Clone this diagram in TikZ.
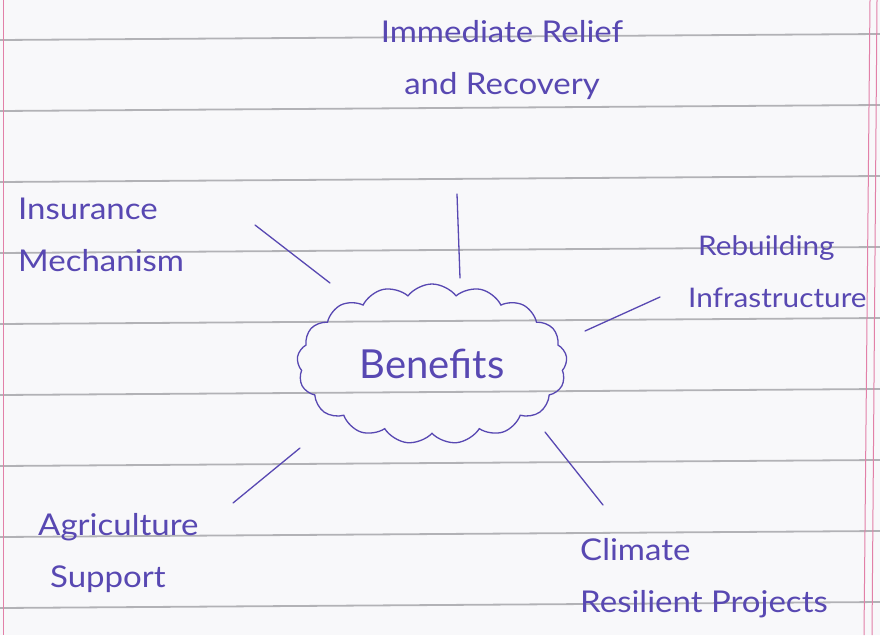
\documentclass[tikz,border=0pt]{standalone}
\usepackage{fontspec}
\setmainfont{Lato}
\newfontfamily\hand[FakeStretch=1.1]{Lato}
\usetikzlibrary{shapes.symbols}
\definecolor{ink}{RGB}{88,72,178}
\definecolor{rulegray}{RGB}{178,178,182}
\definecolor{marginpink}{RGB}{226,128,168}
\definecolor{paper}{RGB}{248,248,250}
\begin{document}
\begin{tikzpicture}[x=1pt,y=-1pt,
  lbl/.style={text=ink, font=\hand\fontsize{30}{52}\selectfont, inner sep=0pt},
  link/.style={draw=ink, line width=1.3pt, line cap=round},
  ruled/.style={draw=rulegray, line width=1.8pt},
  margin/.style={draw=marginpink, line width=1pt}]
\fill[paper] (0,0) rectangle (880,635);
\useasboundingbox (0,0) rectangle (880,635);
\foreach \y in {40,111,...,608} \draw[ruled] (0,\y) -- (880,\y-6);
\draw[margin] (3,0) -- (3,635);
\draw[margin] (877,0) -- (872,635);
\draw[margin] (870,0) -- (864,635);

\node[cloud, draw=ink, line width=1.3pt, cloud puffs=17, cloud puff arc=105,
  cloud ignores aspect, minimum width=270pt, minimum height=160pt,
  text=ink, font=\fontsize{40}{44}\selectfont] (ben) at (432,364) {Benefits};

\node[lbl, align=center] (imm) at (502,60) {Immediate Relief\\and Recovery};
\node[lbl, align=left, anchor=west] (ins) at (18,235) {Insurance\\Mechanism};
\node[lbl, align=left, anchor=west, font=\hand\fontsize{27}{52}\selectfont] (reb) at (688,272) {\hspace*{10pt}Rebuilding\\Infrastructure};
\node[lbl, align=left, anchor=west] (agr) at (38,553) {Agriculture\\\hspace*{12pt}Support};
\node[lbl, align=left, anchor=west] (cli) at (580,578) {Climate\\Resilient Projects};

\coordinate (i1) at (457,194); \coordinate (i2) at (460,278);
\coordinate (n1) at (255,225); \coordinate (n2) at (330,283);
\coordinate (r1) at (660,297); \coordinate (r2) at (585,331);
\coordinate (a1) at (300,448); \coordinate (a2) at (233,503);
\coordinate (c1) at (545,432); \coordinate (c2) at (603,505);
\draw[link] (i1) -- (i2);
\draw[link] (n1) -- (n2);
\draw[link] (r1) -- (r2);
\draw[link] (a1) -- (a2);
\draw[link] (c1) -- (c2);
\end{tikzpicture}
\end{document}
